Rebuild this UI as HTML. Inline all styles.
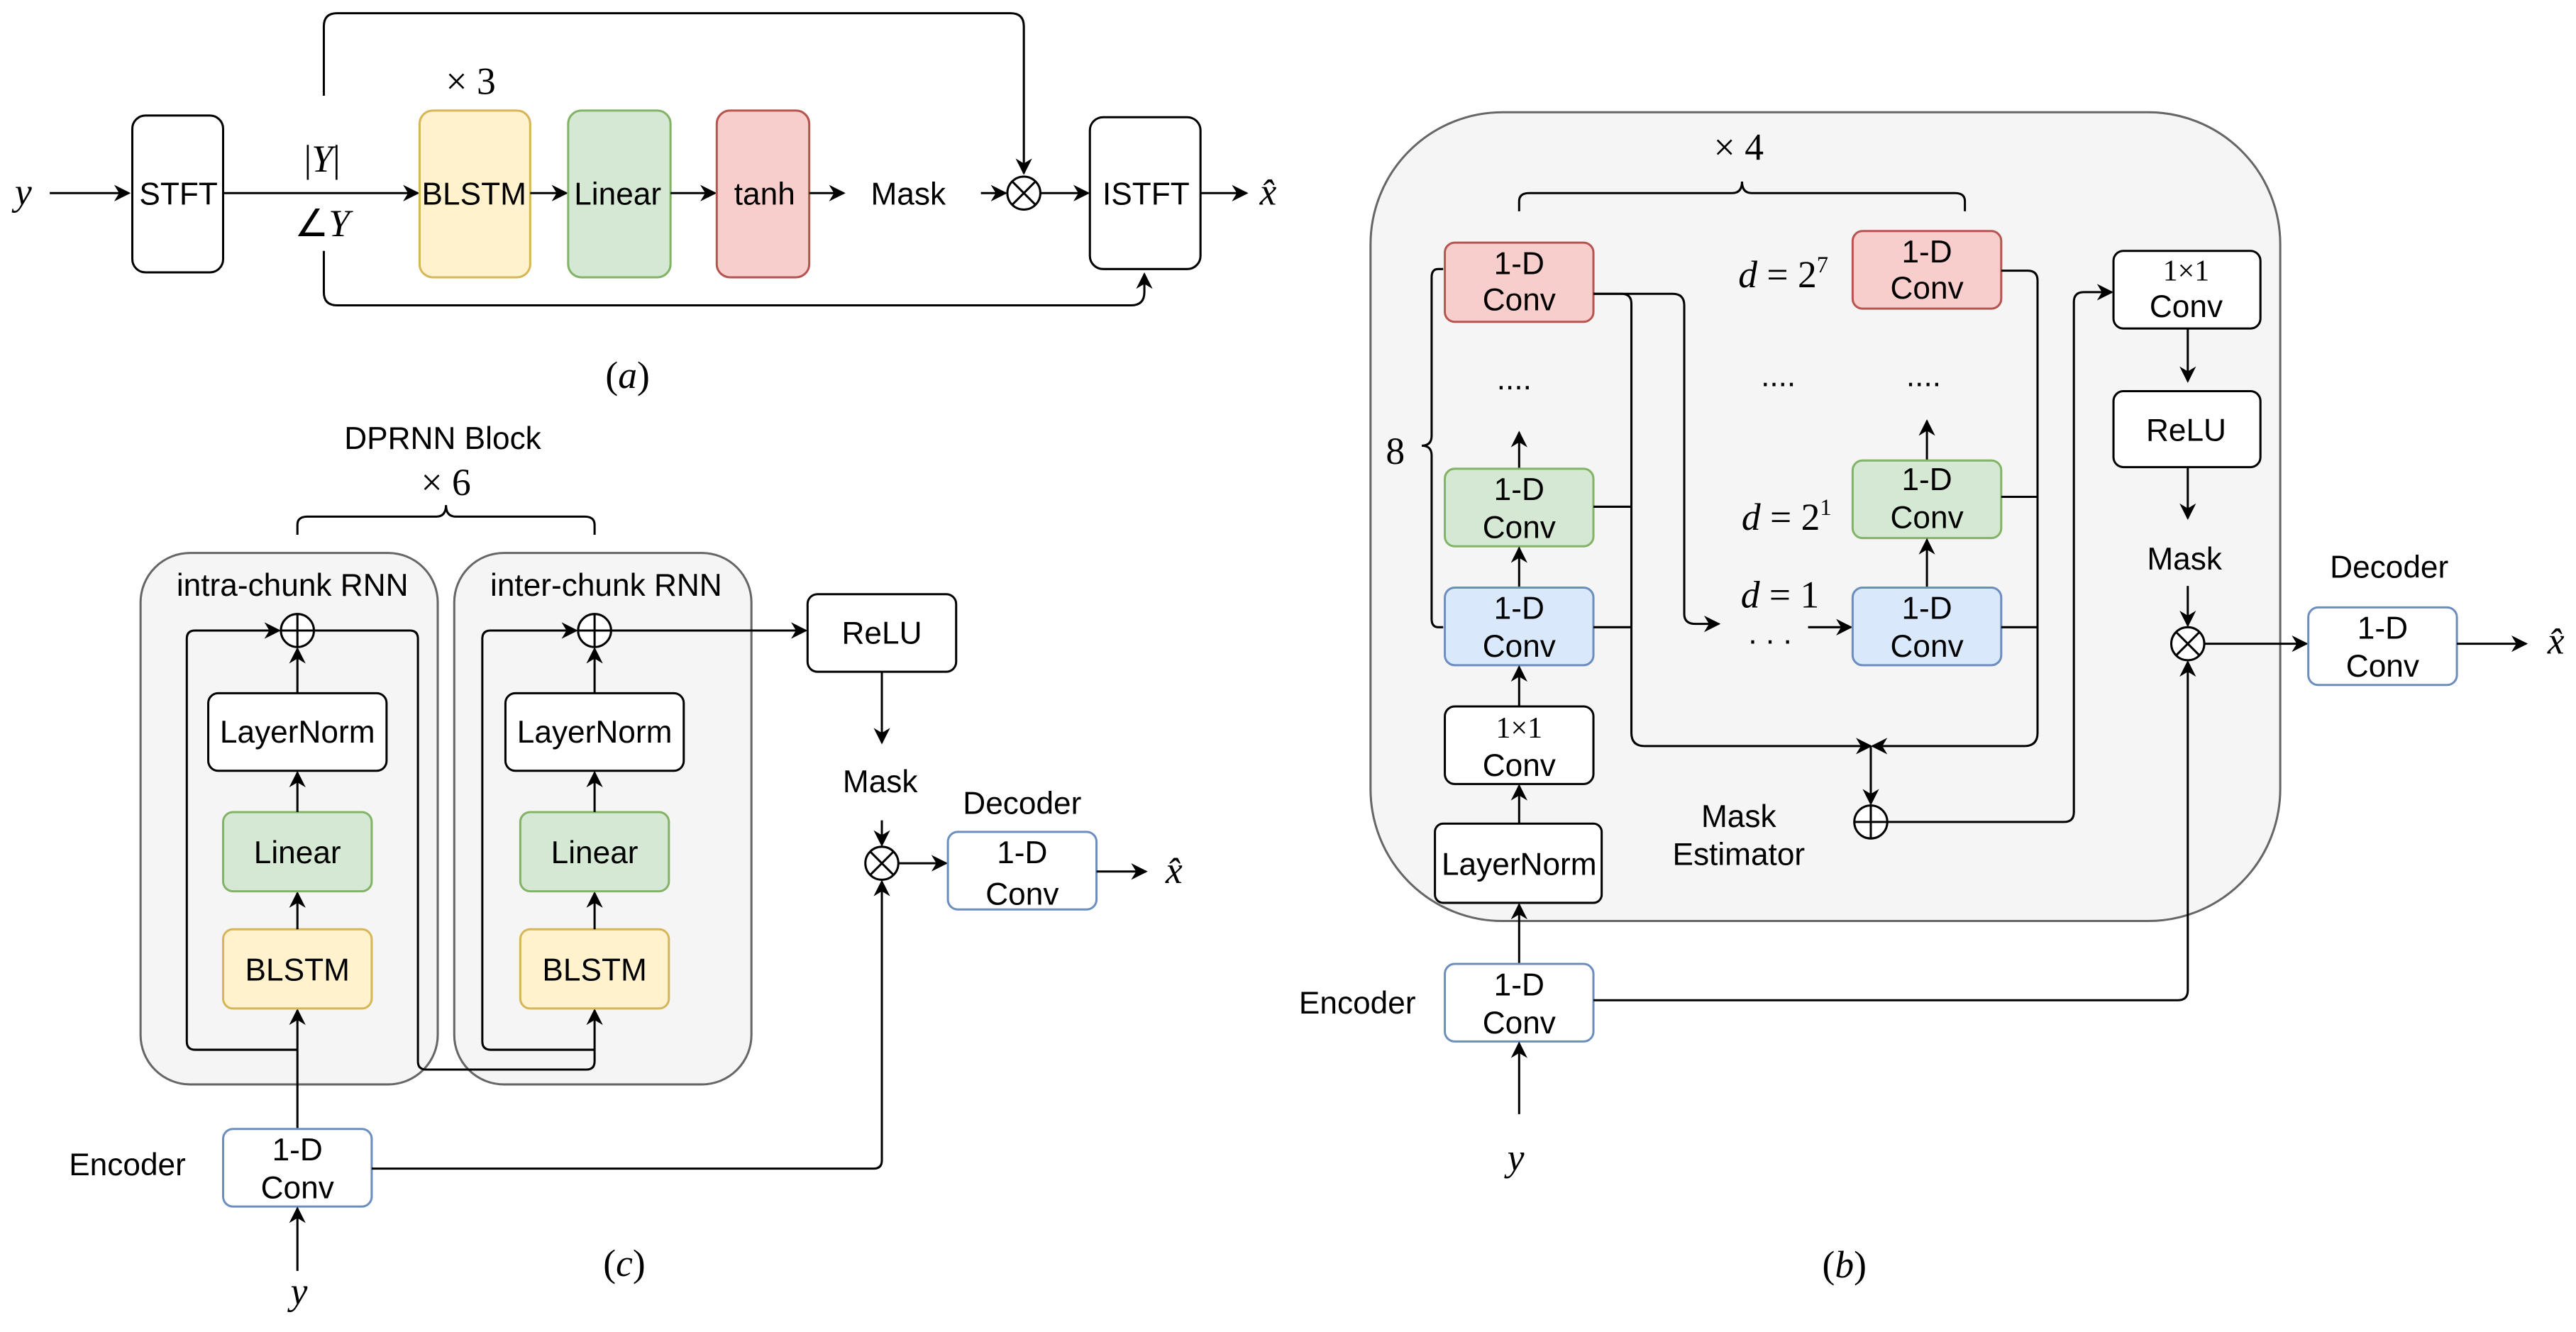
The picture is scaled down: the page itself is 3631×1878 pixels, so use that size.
<!DOCTYPE html>
<html><head><meta charset="utf-8"><style>
html,body{margin:0;padding:0;background:#fff;}
svg{display:block;}
text{font-family:"Liberation Sans",sans-serif;font-size:19px;fill:#000;text-anchor:middle;}
.m{font-family:"Liberation Serif",serif;font-style:italic;font-size:23px;}
.s{font-family:"Liberation Serif",serif;font-size:23px;}
.ln{fill:none;stroke:#000;stroke-width:1.3;}
.b{stroke:#000;stroke-width:1.3;fill:#fff;}
.y{fill:#fff2cc;stroke:#d6b656;stroke-width:1.3;}
.g{fill:#d5e8d4;stroke:#82b366;stroke-width:1.3;}
.r{fill:#f8cecc;stroke:#b85450;stroke-width:1.3;}
.bl{fill:#dae8fc;stroke:#6c8ebf;stroke-width:1.3;}
.bw{fill:#fff;stroke:#6c8ebf;stroke-width:1.3;}
.gr{fill:#f5f5f5;stroke:#666;stroke-width:1.3;}
</style></head><body>
<svg width="3631" height="1878" viewBox="0 0 1560 807" xmlns="http://www.w3.org/2000/svg">
<defs><marker id="a" markerWidth="10" markerHeight="10" refX="9" refY="5" orient="auto" markerUnits="userSpaceOnUse"><path d="M0,0 L10,5 L0,10 L3,5 Z" fill="#000"/></marker></defs>

<!-- (a) -->
<text class="m" x="14" y="124">y</text>
<path class="ln" d="M30,117 H78" marker-end="url(#a)"/>
<rect class="b" x="80" y="70" width="55" height="95" rx="8"/><text x="108" y="124">STFT</text>
<path class="ln" d="M135,117 H253" marker-end="url(#a)"/>
<text class="s" x="195" y="104">|<tspan font-style="italic">Y</tspan>|</text>
<text class="s" x="195" y="143">∠<tspan font-style="italic">Y</tspan></text>
<path class="ln" d="M196,58 V16 Q196,8 204,8 H612 Q620,8 620,16 V105" marker-end="url(#a)"/>
<path class="ln" d="M196,152 V177 Q196,185 204,185 H685 Q693,185 693,177 V166" marker-end="url(#a)"/>
<text class="s" x="285" y="57">× 3</text>
<rect class="y" x="254" y="67" width="67" height="101" rx="8"/><text x="287" y="124">BLSTM</text>
<path class="ln" d="M321,117 H343" marker-end="url(#a)"/>
<rect class="g" x="344" y="67" width="62" height="101" rx="8"/><text x="374" y="124">Linear</text>
<path class="ln" d="M406,117 H433" marker-end="url(#a)"/>
<rect class="r" x="434" y="67" width="56" height="101" rx="8"/><text x="463" y="124">tanh</text>
<path class="ln" d="M490,117 H511" marker-end="url(#a)"/>
<text x="550" y="124">Mask</text>
<path class="ln" d="M594,117 H609" marker-end="url(#a)"/>
<circle class="b" cx="620" cy="117" r="10"/><path class="ln" d="M613,110 L627,124 M627,110 L613,124"/>
<path class="ln" d="M630,117 H659" marker-end="url(#a)"/>
<rect class="b" x="660" y="71" width="67" height="92" rx="8"/><text x="694" y="124">ISTFT</text>
<path class="ln" d="M727,117 H755" marker-end="url(#a)"/>
<text class="m" x="768" y="124">x̂</text>
<text class="s" x="380" y="235">(<tspan font-style="italic">a</tspan>)</text>

<!-- (c) -->
<text x="268" y="272">DPRNN Block</text>
<text class="s" x="270" y="300">× 6</text>
<path class="ln" d="M180,324 V318 Q180,313 186,313 H264 Q270,313 270,306 Q270,313 276,313 H354 Q360,313 360,318 V324"/>
<rect class="gr" x="85" y="335" width="180" height="322" rx="30"/>
<rect class="gr" x="275" y="335" width="180" height="322" rx="30"/>
<text x="177" y="361">intra-chunk RNN</text>
<text x="367" y="361">inter-chunk RNN</text>
<path class="ln" d="M180,684 V612" marker-end="url(#a)"/>
<path class="ln" d="M180,636 H118 Q113,636 113,631 V387 Q113,382 118,382 H169" marker-end="url(#a)"/>
<circle class="b" cx="180" cy="382" r="10"/><path class="ln" d="M170,382 H190 M180,372 V392"/>
<rect class="y" x="135" y="563" width="90" height="48" rx="6"/><text x="180" y="594">BLSTM</text>
<path class="ln" d="M180,563 V541" marker-end="url(#a)"/>
<rect class="g" x="135" y="492" width="90" height="48" rx="6"/><text x="180" y="523">Linear</text>
<path class="ln" d="M180,492 V468" marker-end="url(#a)"/>
<rect class="b" x="126" y="420" width="108" height="47" rx="6"/><text x="180" y="450">LayerNorm</text>
<path class="ln" d="M180,420 V393" marker-end="url(#a)"/>
<path class="ln" d="M190,382 H248 Q253,382 253,387 V643 Q253,648 258,648 H355 Q360,648 360,643 V612" marker-end="url(#a)"/>
<path class="ln" d="M360,636 H297 Q292,636 292,631 V387 Q292,382 297,382 H349" marker-end="url(#a)"/>
<circle class="b" cx="360" cy="382" r="10"/><path class="ln" d="M350,382 H370 M360,372 V392"/>
<rect class="y" x="315" y="563" width="90" height="48" rx="6"/><text x="360" y="594">BLSTM</text>
<path class="ln" d="M360,563 V541" marker-end="url(#a)"/>
<rect class="g" x="315" y="492" width="90" height="48" rx="6"/><text x="360" y="523">Linear</text>
<path class="ln" d="M360,492 V468" marker-end="url(#a)"/>
<rect class="b" x="306" y="420" width="108" height="47" rx="6"/><text x="360" y="450">LayerNorm</text>
<path class="ln" d="M360,420 V393" marker-end="url(#a)"/>
<path class="ln" d="M370,382 H488" marker-end="url(#a)"/>
<rect class="b" x="489" y="360" width="90" height="47" rx="6"/><text x="534" y="390">ReLU</text>
<path class="ln" d="M534,407 V450" marker-end="url(#a)"/>
<text x="533" y="480">Mask</text>
<path class="ln" d="M534,497 V512" marker-end="url(#a)"/>
<circle class="b" cx="534" cy="523" r="10"/><path class="ln" d="M527,516 L541,530 M541,516 L527,530"/>
<path class="ln" d="M544,523 H573" marker-end="url(#a)"/>
<text x="619" y="493">Decoder</text>
<rect class="bw" x="574" y="504" width="90" height="47" rx="6"/><text x="619" y="523">1-D</text><text x="619" y="548">Conv</text>
<path class="ln" d="M664,528 H694" marker-end="url(#a)"/>
<text class="m" x="711" y="535">x̂</text>
<rect class="bw" x="135" y="684" width="90" height="47" rx="6"/><text x="180" y="703">1-D</text><text x="180" y="726">Conv</text>
<text x="77" y="712">Encoder</text>
<path class="ln" d="M225,708 H529 Q534,708 534,703 V534" marker-end="url(#a)"/>
<path class="ln" d="M180,770 V732" marker-end="url(#a)"/>
<text class="m" x="181" y="790">y</text>
<text class="s" x="378" y="773">(<tspan font-style="italic">c</tspan>)</text>

<!-- (b) -->
<rect class="gr" x="830" y="68" width="551" height="490" rx="80"/>
<text class="s" x="1053" y="97">× 4</text>
<path class="ln" d="M920,128 V122 Q920,117 926,117 H1049 Q1055,117 1055,110 Q1055,117 1061,117 H1184 Q1190,117 1190,122 V128"/>
<path class="ln" d="M874,163 H871 Q867,163 867,168 V264 Q867,270 861,270 Q867,270 867,276 V375 Q867,380 871,380 H874"/>
<text class="s" x="845" y="281">8</text>
<rect class="r" x="875" y="147" width="90" height="48" rx="6"/><text x="920" y="166">1-D</text><text x="920" y="188">Conv</text>
<text x="917" y="236">....</text>
<path class="ln" d="M920,284 V262" marker-end="url(#a)"/>
<rect class="g" x="875" y="284" width="90" height="47" rx="6"/><text x="920" y="303">1-D</text><text x="920" y="326">Conv</text>
<path class="ln" d="M920,356 V332" marker-end="url(#a)"/>
<rect class="bl" x="875" y="356" width="90" height="47" rx="6"/><text x="920" y="375">1-D</text><text x="920" y="398">Conv</text>
<path class="ln" d="M920,428 V404" marker-end="url(#a)"/>
<rect class="b" x="875" y="428" width="90" height="47" rx="6"/><text class="s" x="920" y="447" style="font-style:normal;font-size:18px">1×1</text><text x="920" y="470">Conv</text>
<path class="ln" d="M920,499 V476" marker-end="url(#a)"/>
<rect class="b" x="869" y="499" width="101" height="48" rx="5"/><text x="920" y="530">LayerNorm</text>
<path class="ln" d="M920,584 V548" marker-end="url(#a)"/>
<rect class="bw" x="875" y="584" width="90" height="47" rx="6"/><text x="920" y="603">1-D</text><text x="920" y="626">Conv</text>
<text x="822" y="614">Encoder</text>
<path class="ln" d="M920,675 V632" marker-end="url(#a)"/>
<text class="m" x="918" y="709">y</text>
<path class="ln" d="M965,178 H982 Q988,178 988,184 V444 Q988,452 996,452 H1133" marker-end="url(#a)"/>
<path class="ln" d="M965,307 H988 M965,380 H988"/>
<path class="ln" d="M965,178 H1013 Q1020,178 1020,185 V372 Q1020,378 1027,378 H1041" marker-end="url(#a)"/>
<text class="m" x="1080" y="174">d <tspan font-style="normal">= 2</tspan><tspan font-style="normal" font-size="14" dy="-9">7</tspan></text>
<rect class="r" x="1122" y="140" width="90" height="47" rx="6"/><text x="1167" y="159">1-D</text><text x="1167" y="181">Conv</text>
<text x="1077" y="234">....</text><text x="1165" y="234">....</text>
<path class="ln" d="M1167,279 V255" marker-end="url(#a)"/>
<text class="m" x="1082" y="321">d <tspan font-style="normal">= 2</tspan><tspan font-style="normal" font-size="14" dy="-9">1</tspan></text>
<rect class="g" x="1122" y="279" width="90" height="47" rx="6"/><text x="1167" y="297">1-D</text><text x="1167" y="320">Conv</text>
<path class="ln" d="M1167,356 V327" marker-end="url(#a)"/>
<text class="m" x="1078" y="368">d <tspan font-style="normal">= 1</tspan></text>
<text x="1072" y="390">. . .</text>
<path class="ln" d="M1095,380 H1121" marker-end="url(#a)"/>
<rect class="bl" x="1122" y="356" width="90" height="47" rx="6"/><text x="1167" y="375">1-D</text><text x="1167" y="398">Conv</text>
<path class="ln" d="M1212,164 H1228 Q1234,164 1234,170 V444 Q1234,452 1226,452 H1134" marker-end="url(#a)"/>
<path class="ln" d="M1212,301 H1234 M1212,380 H1234"/>
<path class="ln" d="M1133,452 V487" marker-end="url(#a)"/>
<circle class="b" cx="1133" cy="498" r="10"/><path class="ln" d="M1123,498 H1143 M1133,488 V508"/>
<text x="1053" y="501">Mask</text><text x="1053" y="524">Estimator</text>
<path class="ln" d="M1143,498 H1250 Q1256,498 1256,492 V183 Q1256,177 1262,177 H1279" marker-end="url(#a)"/>
<rect class="b" x="1280" y="152" width="89" height="47" rx="6"/><text class="s" x="1324" y="170" style="font-size:18px">1×1</text><text x="1324" y="192">Conv</text>
<path class="ln" d="M1325,199 V231" marker-end="url(#a)"/>
<rect class="b" x="1280" y="237" width="89" height="46" rx="6"/><text x="1324" y="267">ReLU</text>
<path class="ln" d="M1325,283 V314" marker-end="url(#a)"/>
<text x="1323" y="345">Mask</text>
<path class="ln" d="M1325,355 V379" marker-end="url(#a)"/>
<circle class="b" cx="1325" cy="390" r="10"/><path class="ln" d="M1318,383 L1332,397 M1332,383 L1318,397"/>
<path class="ln" d="M965,606 H1319 Q1325,606 1325,600 V401" marker-end="url(#a)"/>
<path class="ln" d="M1335,390 H1397" marker-end="url(#a)"/>
<text x="1447" y="350">Decoder</text>
<rect class="bw" x="1398" y="368" width="90" height="47" rx="6"/><text x="1443" y="387">1-D</text><text x="1443" y="410">Conv</text>
<path class="ln" d="M1488,390 H1530" marker-end="url(#a)"/>
<text class="m" x="1548" y="396">x̂</text>
<text class="s" x="1117" y="774">(<tspan font-style="italic">b</tspan>)</text>
</svg>
</body></html>
